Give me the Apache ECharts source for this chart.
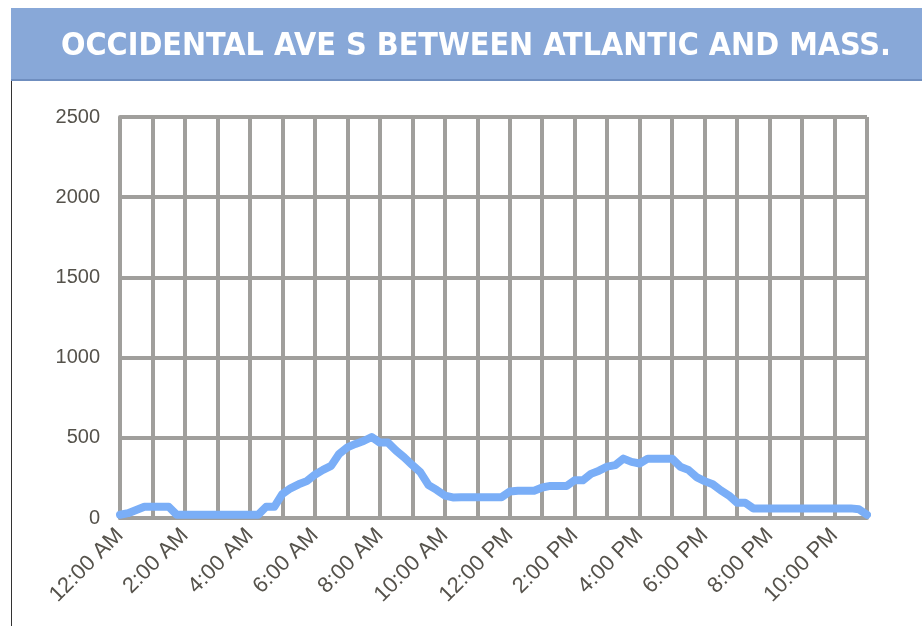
<!DOCTYPE html>
<html lang="en" style="height: 100%">
<head>
    <meta charset="utf-8">
</head>
<body style="height: 100%; margin: 0; background: #fff">
    <div id="container" style="width: 922px; height: 626px"></div>
    <script type="text/javascript" src="https://cdn.jsdelivr.net/npm/echarts@6/dist/echarts.min.js"></script>
    <script type="text/javascript">
        // traffic volume, every 15 minutes from 12:00 AM to 11:00 PM
        var volume = [
            20, 30, 50, 70, 70, 70, 70, 20, 20, 20,
            20, 20, 20, 20, 20, 20, 20, 20, 70, 70,
            150, 185, 210, 230, 270, 300, 325, 400, 440, 462,
            480, 505, 470, 470, 420, 378, 330, 285, 205, 175,
            140, 128, 130, 130, 130, 130, 130, 130, 165, 170,
            170, 170, 190, 200, 200, 200, 235, 235, 275, 295,
            320, 330, 370, 350, 340, 370, 370, 370, 370, 320,
            300, 255, 230, 210, 172, 140, 95, 95, 60, 60,
            60, 60, 60, 60, 60, 60, 60, 60, 60, 60,
            60, 55, 20
        ];
        var yTicks = [0, 500, 1000, 1500, 2000, 2500];
        var titleText = 'OCCIDENTAL AVE S BETWEEN ATLANTIC AND MASS.';

        // time-of-day categories (15 minute steps)
        var times = [];
        for (var i = 0; i < volume.length; i++) {
            var h = Math.floor(i / 4), m = (i % 4) * 15;
            var h12 = h % 12 === 0 ? 12 : h % 12;
            times.push(h12 + ':' + (m < 10 ? '0' + m : m) + ' ' + (h < 12 ? 'AM' : 'PM'));
        }

        var gridColor = '#a09f9c';
        var labelFont = 'Liberation Sans, Arial';
        var myChart = echarts.init(document.getElementById('container'), null, { renderer: 'canvas' });

        var option = {
            animation: false,
            backgroundColor: '#fff',
            title: {
                text: titleText,
                left: 56,
                top: 26,
                textStyle: {
                    color: '#fff',
                    fontSize: 32,
                    fontWeight: 'bold',
                    fontFamily: 'DejaVu Sans Condensed, Liberation Sans Narrow, Roboto'
                }
            },
            graphic: [
                { type: 'rect', z: -1, shape: { x: 11, y: 8, width: 911, height: 73 }, style: { fill: '#88a8d8' } },
                { type: 'rect', z: -1, shape: { x: 11, y: 79, width: 911, height: 2 }, style: { fill: '#6f8ebf' } },
                { type: 'rect', z: -1, shape: { x: 11, y: 81, width: 1, height: 545 }, style: { fill: '#333' } }
            ],
            grid: { left: 120, right: 55, top: 117, bottom: 108 },
            xAxis: {
                type: 'category',
                data: times,
                boundaryGap: false,
                axisLine: { lineStyle: { color: gridColor, width: 4 } },
                axisTick: { show: false },
                axisLabel: {
                    interval: function (index) { return index % 8 === 0; },
                    rotate: 45,
                    margin: 14,
                    color: '#55524b',
                    fontSize: 22,
                    fontFamily: labelFont
                },
                splitLine: {
                    show: true,
                    interval: function (index) { return index % 4 === 0; },
                    lineStyle: { color: gridColor, width: 4 }
                }
            },
            yAxis: {
                type: 'value',
                min: yTicks[0],
                max: yTicks[yTicks.length - 1],
                interval: 500,
                axisLine: { show: true, lineStyle: { color: gridColor, width: 4 } },
                axisTick: { show: false },
                axisLabel: {
                    margin: 20,
                    color: '#55524b',
                    fontSize: 20,
                    fontFamily: labelFont,
                    formatter: function (v) { return String(v); }
                },
                splitLine: { lineStyle: { color: gridColor, width: 4 } }
            },
            series: [{
                type: 'line',
                data: volume,
                showSymbol: false,
                lineStyle: { color: '#7aaef7', width: 8, join: 'round', cap: 'round' },
                z: 5
            }]
        };
        myChart.setOption(option);
    </script>
</body>
</html>
